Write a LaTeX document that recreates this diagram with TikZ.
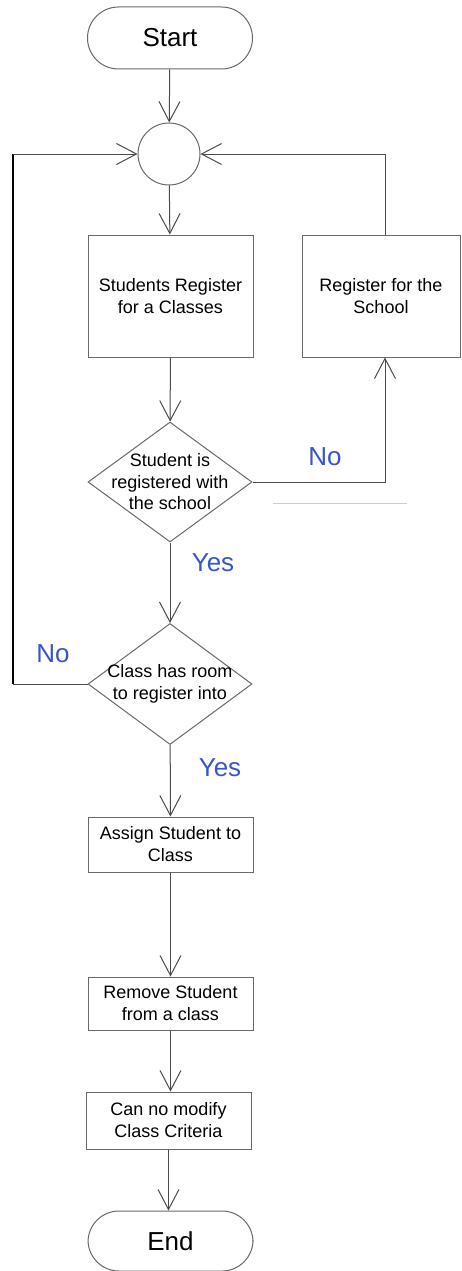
\documentclass[tikz,border=0pt]{standalone}
\usepackage{fontspec}
\setmainfont{Liberation Sans}
\usetikzlibrary{arrows.meta,shapes.geometric}

\definecolor{linegray}{RGB}{75,75,75}
\definecolor{boxgray}{RGB}{105,105,105}
\definecolor{answerblue}{RGB}{55,85,205}
\definecolor{straygray}{RGB}{205,205,205}

\tikzset{
  flow/.style={draw=linegray, line width=1pt,
    -{Straight Barb[length=20pt,width=21pt,line width=1pt]}},
  plain/.style={draw=linegray, line width=1pt},
  terminal/.style={draw=boxgray, line width=1pt, rectangle, rounded corners=31pt,
    minimum width=165pt, minimum height=62pt, inner sep=0pt,
    font=\fontsize{26}{30}\selectfont},
  junction/.style={draw=boxgray, line width=1pt, circle, minimum size=62pt, inner sep=0pt},
  process/.style={draw=boxgray, line width=1pt, rectangle, inner sep=0pt,
    align=center, font=\fontsize{18}{22}\selectfont},
  decision/.style={draw=boxgray, line width=1pt, diamond, inner sep=0pt,
    minimum width=164pt, minimum height=120pt},
  dtext/.style={align=center, font=\fontsize{18}{21.5}\selectfont, inner sep=0pt},
  answer/.style={text=answerblue, font=\fontsize{26}{30}\selectfont, inner sep=0pt}
}

\begin{document}
\begin{tikzpicture}[x=1pt, y=-1pt]
  \useasboundingbox (0,0) rectangle (461,1271);

  % main column
  \node[terminal] (start) at (170,38) {Start};
  \node[junction] (circ) at (169,154) {};
  \node[process, minimum width=165pt, minimum height=122pt] (reg) at (170.5,296)
    {Students Register\\for a Classes};
  \node[process, minimum width=158pt, minimum height=122pt] (school) at (381,296)
    {Register for the\\School};
  \node[decision] (d1) at (170,482) {};
  \node[dtext] (d1t) at (d1) {Student is\\registered with\\the school};
  \node[decision, minimum height=121pt] (d2) at (170,684) {};
  \node[dtext] (d2t) at (d2) {Class has room\\to register into};
  \node[process, minimum width=165pt, minimum height=55pt] (assign) at (170.5,844.5)
    {Assign Student to\\Class};
  \node[process, minimum width=165pt, minimum height=53pt] (remove) at (170.5,1003.5)
    {Remove Student\\from a class};
  \node[process, minimum width=165pt, minimum height=57pt] (modify) at (168.5,1120.5)
    {Can no modify\\Class Criteria};
  \node[terminal, minimum height=60pt] (end) at (170.5,1241) {End};

  % loop columns
  \coordinate (rcol) at (385,0);
  \coordinate (lcol) at (13,0);

  % answer labels
  \node[answer] (no1) at (325,457) {No};
  \node[answer] (yes1) at (213,563) {Yes};
  \node[answer] (no2) at (53,654) {No};
  \node[answer] (yes2) at (220,768) {Yes};

  % straight-down connectors
  \draw[flow] (start) -- (circ);
  \draw[flow] (circ) -- (reg);
  \draw[flow] (reg) -- (d1);
  \draw[flow] (d1) -- (d2);
  \draw[flow] (d2) -- (assign);
  \draw[flow] (assign) -- (remove);
  \draw[flow] (remove.south) -- (modify.north -| remove.south);
  \draw[flow] (modify.south) -- (end.north -| modify.south);

  % "No" branch to school registration and back to the junction
  \draw[flow] (d1.east) -| (rcol |- school.south);
  \draw[flow] (rcol |- school.north) |- (circ.east);

  % "No" branch from the room check back to the junction
  \draw[plain] (d2.west) -- (lcol |- d2.west);
  \draw[draw=black, line width=1.6pt] (lcol |- d2.west) -- (lcol |- circ.west);
  \draw[flow] (lcol |- circ.west) -- (circ.west);

  % faint rule under the first "No" branch
  \draw[straygray, line width=1pt] (273,503) -- (407,503);
\end{tikzpicture}
\end{document}
